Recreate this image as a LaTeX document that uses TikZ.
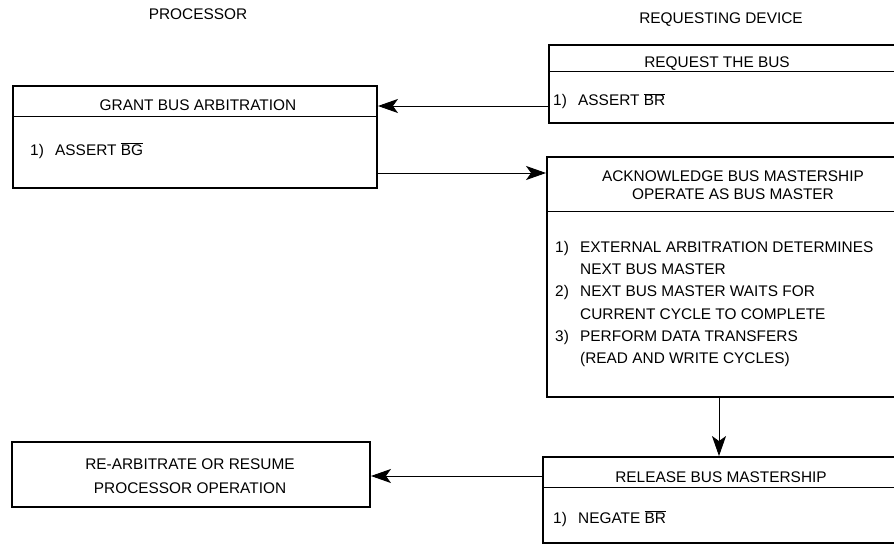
\documentclass[tikz,border=0pt]{standalone}
\usepackage{fontspec}
\setmainfont{Liberation Sans}
\usetikzlibrary{arrows.meta,positioning}
\newcommand{\nbar}[1]{$\overline{\mbox{#1}}$}
\newcommand{\itm}[1]{\makebox[25pt][l]{#1}}

\begin{document}
\begin{tikzpicture}[
  x=1pt, y=-1pt,
  font=\fontsize{15.4}{22.2}\selectfont,
  box/.style={draw, line width=1.9pt, rectangle, inner sep=0pt},
  headtxt/.style={anchor=base, inner sep=0pt, align=center},
  bodytxt/.style={anchor=base west, inner sep=0pt, align=left},
  divline/.style={line width=1pt},
  arr/.style={line width=0.9pt, -{Stealth[length=20pt,width=14pt,inset=5pt]}}
]
\useasboundingbox (0,0) rectangle (894,548);
\clip (0,0) rectangle (894,548);

% column titles
\node[headtxt] (proc) at (198,20) {PROCESSOR};
\node[headtxt] (dev) at (721,24) {REQUESTING DEVICE};

% processor side
\node[box, minimum width=364pt, minimum height=102pt] (grant) at (195,137) {};
\draw[divline] (grant.west |- 0,117) -- (grant.east |- 0,117);
\node[headtxt] (granthead) at (198,110.5) {GRANT BUS ARBITRATION};
\node[bodytxt] (grantbody) at (30,155.5) {\itm{1)}ASSERT \nbar{BG}};

\node[box, minimum width=358pt, minimum height=65pt] (rearb) at (191,474.5) {};
\node[headtxt, font=\fontsize{15.4}{24}\selectfont] (rearbtxt) at (190,493)
  {RE-ARBITRATE OR RESUME\\PROCESSOR OPERATION};

% requesting device side
\node[box, minimum width=356pt, minimum height=78pt] (request) at (727,84) {};
\draw[divline] (request.west |- 0,72) -- (request.east |- 0,72);
\node[headtxt] (reqhead) at (717,68) {REQUEST THE BUS};
\node[bodytxt] (reqbody) at (553,106) {\itm{1)}ASSERT \nbar{BR}};

\node[box, minimum width=358pt, minimum height=240pt] (ack) at (726,277) {};
\draw[divline] (ack.west |- 0,212) -- (ack.east |- 0,212);
\node[headtxt, font=\fontsize{15.4}{17.5}\selectfont] (ackhead) at (733,199.5)
  {ACKNOWLEDGE BUS MASTERSHIP\\OPERATE AS BUS MASTER};
\node[bodytxt] (ackbody) at (555,363.5) {%
  \itm{1)}EXTERNAL ARBITRATION DETERMINES\\
  \itm{}NEXT BUS MASTER\\
  \itm{2)}NEXT BUS MASTER WAITS FOR\\
  \itm{}CURRENT CYCLE TO COMPLETE\\
  \itm{3)}PERFORM DATA TRANSFERS\\
  \itm{}(READ AND WRITE CYCLES)};

\node[box, minimum width=362pt, minimum height=86pt] (release) at (724,500) {};
\draw[divline] (release.west |- 0,487) -- (release.east |- 0,487);
\node[headtxt] (relhead) at (721,482) {RELEASE BUS MASTERSHIP};
\node[bodytxt] (relbody) at (553,523) {\itm{1)}NEGATE \nbar{BR}};

% connectors
\draw[arr] ([yshift=-22pt]request.west) -- ([yshift=-22pt]request.west -| grant.east);
\draw[arr] ([yshift=-36pt]grant.east) -- ([yshift=-36pt]grant.east -| ack.west);
\draw[arr] ([xshift=-7pt]ack.south) -- ([xshift=-7pt]ack.south |- release.north);
\draw[arr] ([yshift=24pt]release.west) -- ([yshift=24pt]release.west -| rearb.east);
\end{tikzpicture}
\end{document}
